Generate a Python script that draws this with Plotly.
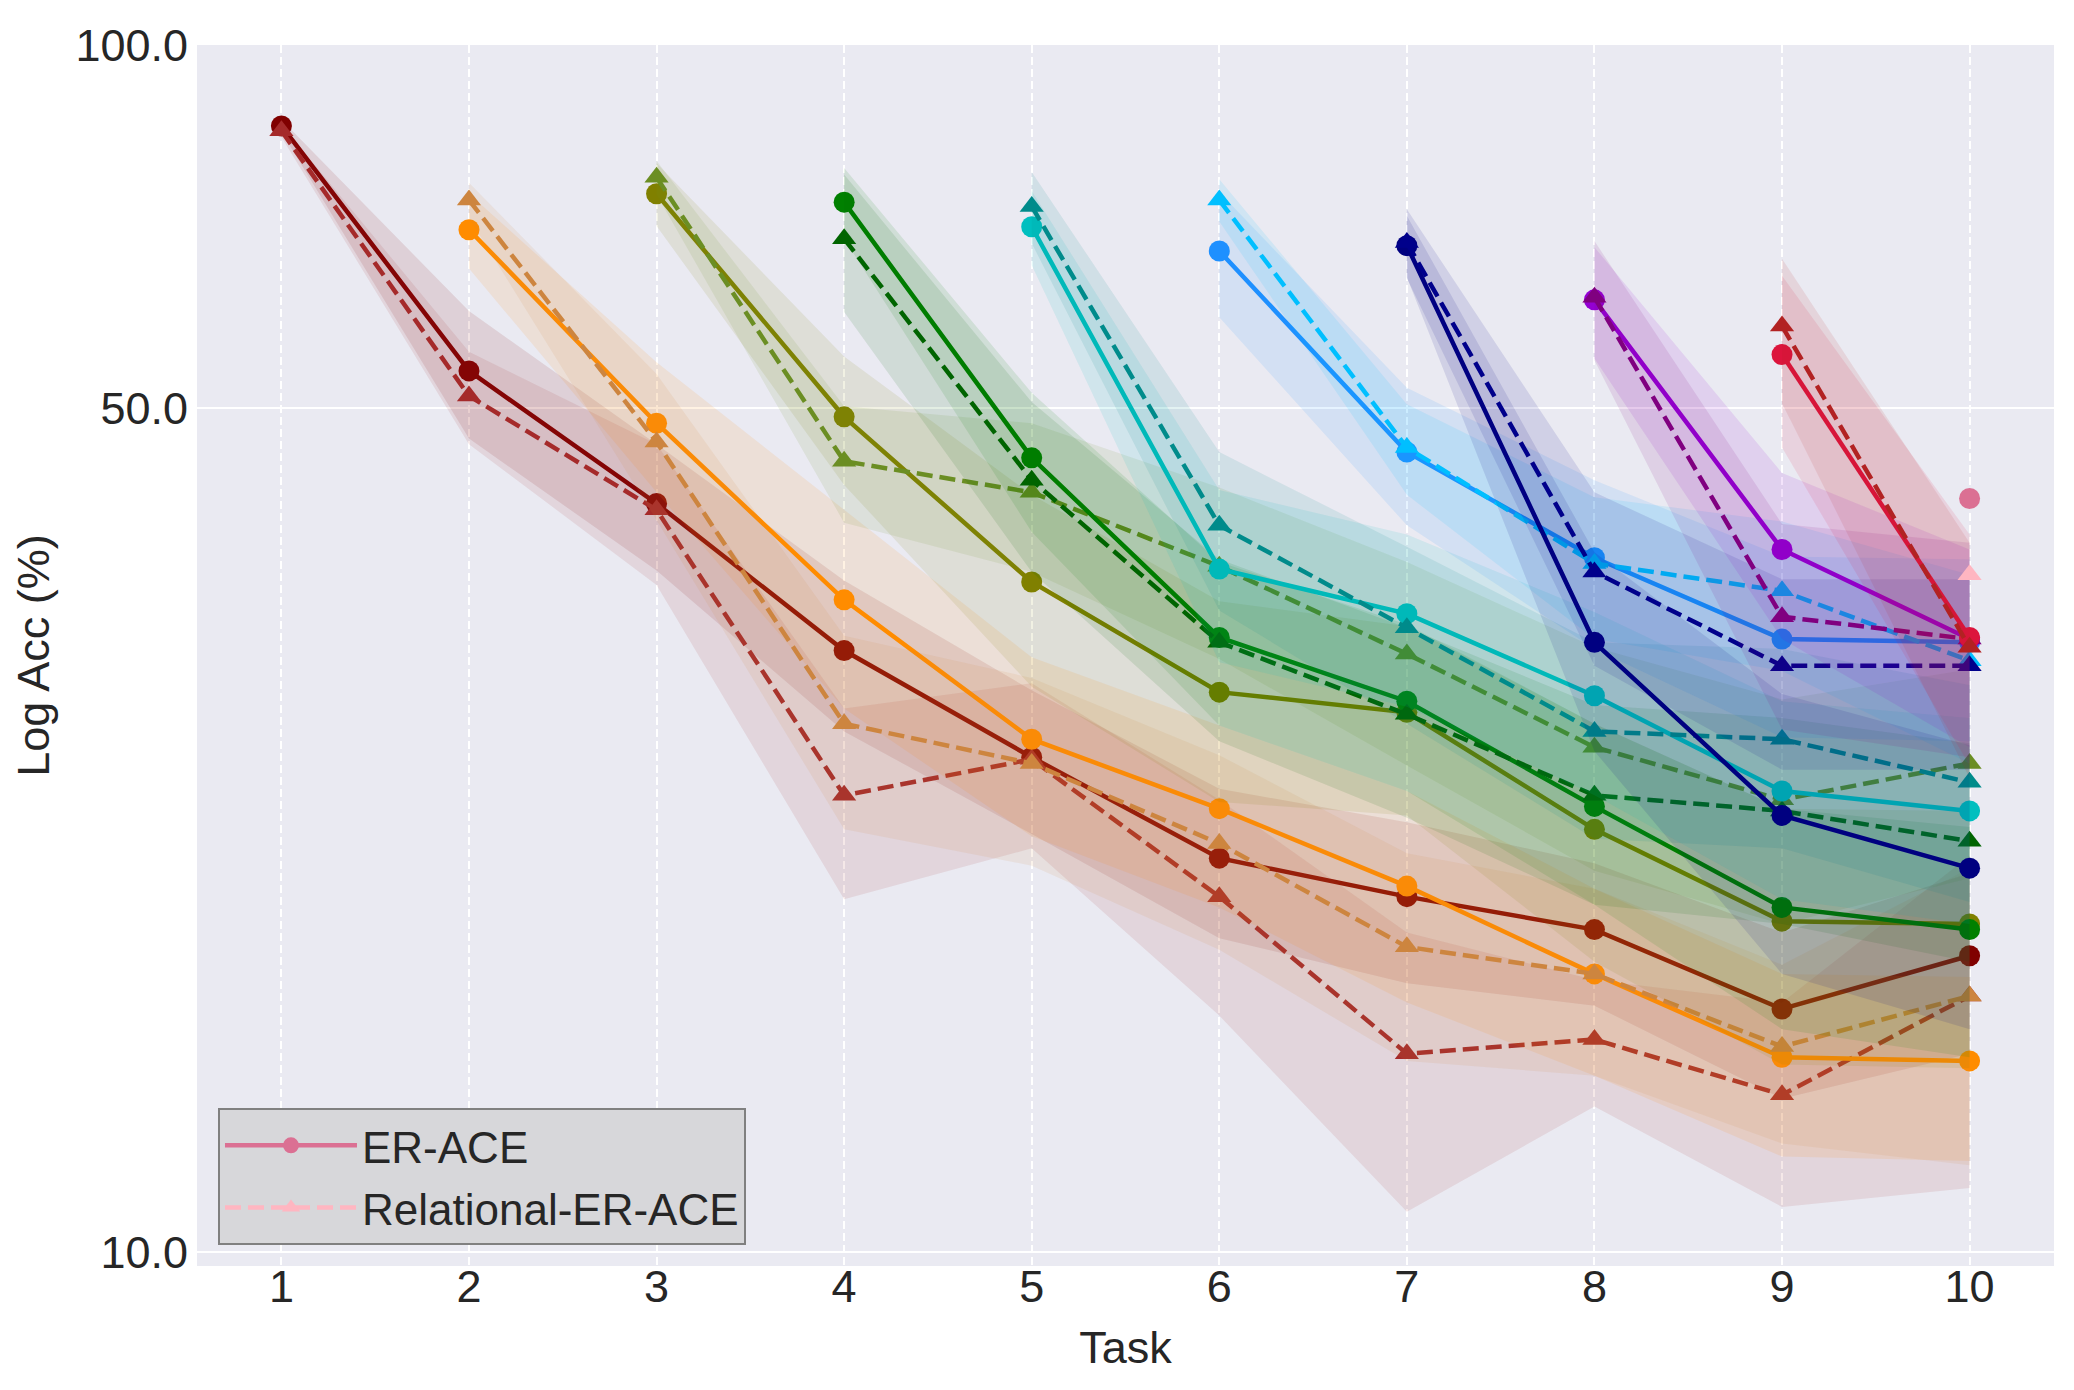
import numpy as np
import plotly.graph_objects as go

tasks = list(range(1, 11))

# mean accuracy per task, read left to right from the task where each model starts
er_acc = [
    [85.7, 53.7, 41.7, 31.5, 25.7, 21.2, 19.7, 18.5, 15.9, 17.6],
    [70.3, 48.6, 34.7, 26.6, 23.3, 20.1, 17.0, 14.5, 14.4],
    [75.3, 49.2, 35.9, 29.1, 28.0, 22.4, 18.8, 18.7],
    [74.1, 45.5, 32.3, 28.6, 23.4, 19.3, 18.5],
    [70.7, 36.8, 33.8, 28.9, 24.1, 23.2],
    [67.5, 46.0, 37.6, 32.2, 32.0],
    [68.2, 32.0, 23.0, 20.8],
    [61.5, 38.2, 32.2],
    [55.4, 32.3],
    [42.1],
]
rel_acc = [
    [84.9, 51.2, 41.2, 23.9, 25.6, 19.7, 14.6, 15.0, 13.5, 16.3],
    [74.4, 46.9, 27.4, 25.4, 21.8, 17.9, 17.0, 14.8, 16.3],
    [77.7, 45.2, 42.6, 37.0, 31.3, 26.2, 23.7, 25.4],
    [69.1, 43.6, 32.0, 27.9, 23.9, 23.2, 21.9],
    [73.5, 40.0, 32.9, 27.0, 26.6, 24.5],
    [74.4, 46.4, 37.2, 35.3, 30.9],
    [68.6, 36.6, 30.6, 30.6],
    [61.8, 33.6, 32.2],
    [58.5, 31.7],
    [36.4],
]

# std bands (estimated)
er_std = [
    [1.0, 6.5, 5.0, 4.5, 3.5, 3.0, 3.0, 2.5, 2.5, 3.0],
    [5.0, 6.0, 6.5, 4.5, 4.0, 4.0, 3.0, 2.5, 2.5],
    [4.5, 6.0, 6.5, 5.5, 5.0, 5.0, 4.5, 4.5],
    [5.0, 6.0, 5.0, 4.5, 4.0, 4.0, 4.0],
    [5.0, 6.0, 5.5, 5.0, 4.5, 4.5],
    [8.0, 6.0, 6.0, 5.5, 5.5],
    [4.0, 6.0, 6.0, 5.5],
    [6.5, 6.0, 6.0],
    [9.0, 7.0],
    [0.0],
]
rel_std = [
    [1.0, 4.5, 5.5, 4.3, 4.0, 4.0, 3.8, 1.8, 2.6, 5.0],
    [2.5, 6.5, 5.0, 4.5, 4.0, 3.5, 3.0, 2.5, 4.5],
    [2.5, 5.0, 6.0, 6.0, 6.0, 5.5, 5.0, 5.0],
    [9.0, 7.0, 5.5, 5.0, 4.5, 4.5, 4.5],
    [5.0, 6.0, 5.5, 5.0, 5.0, 5.0],
    [3.0, 4.0, 5.0, 5.0, 5.5],
    [4.5, 6.0, 5.5, 5.5],
    [7.0, 6.5, 6.5],
    [8.0, 7.0],
    [0.0],
]

er_colors = ["#800000", "#ff8c00", "#808000", "#008000", "#00bfbf",
             "#1e90ff", "#000080", "#9400d3", "#dc143c", "#db7093"]
rel_colors = ["#a52a2a", "#cd853f", "#6b8e23", "#006400", "#008b8b",
              "#00bfff", "#00008b", "#800080", "#b22222", "#ffb6c1"]


def rgba(hex_color, alpha):
    h = hex_color.lstrip("#")
    r, g, b = (int(h[i:i + 2], 16) for i in (0, 2, 4))
    return f"rgba({r},{g},{b},{alpha})"


fig = go.Figure()

for i in range(10):
    x = tasks[i:]
    runs = [
        (er_acc[i], er_std[i], er_colors[i], "solid", "circle", "ER-ACE"),
        (rel_acc[i], rel_std[i], rel_colors[i], "16px,7px", "triangle-up", "Relational-ER-ACE"),
    ]
    for acc, std, color, dash, symbol, name in runs:
        mean = np.array(acc)
        s = np.array(std)
        if s.max() > 0:
            fig.add_trace(go.Scatter(
                x=x + x[::-1],
                y=list(mean + s) + list((mean - s)[::-1]),
                fill="toself",
                fillcolor=rgba(color, 0.11),
                line=dict(width=0),
                mode="lines",
                hoverinfo="skip",
                showlegend=False,
            ))
        fig.add_trace(go.Scatter(
            x=x,
            y=acc,
            mode="lines+markers",
            line=dict(color=color, width=4.5, dash=dash),
            marker=dict(symbol=symbol, size=21, color=color),
            name=name,
            legendgroup=name,
            showlegend=(i == 9),
        ))

font = "Liberation Sans, Arial, sans-serif"

# the page body adds an 8px offset, margins compensate for it
fig.update_layout(
    width=2074,
    height=1390,
    margin=dict(l=189, r=28, t=29, b=132),
    plot_bgcolor="#EAEAF2",
    paper_bgcolor="white",
    font=dict(family=font, size=45, color="#262626"),
    legend=dict(
        x=0.0113, y=0.017, xanchor="left", yanchor="bottom",
        bgcolor="#d7d7da", bordercolor="#808080", borderwidth=2,
        font=dict(size=44, color="#262626"),
        tracegroupgap=2,
        itemwidth=132,
    ),
)

fig.update_xaxes(
    range=[0.55, 10.45],
    tickvals=tasks,
    showgrid=True, gridcolor="white", gridwidth=2, griddash="8px,4px",
    zeroline=False, showline=False, ticks="",
    tickfont=dict(size=45),
    ticklabelstandoff=-10,
    title=dict(text="Task", font=dict(size=45), standoff=20),
)

fig.update_yaxes(
    type="log",
    range=[np.log10(9.738), 2],
    tickvals=[10, 50, 100],
    ticktext=["10.0", "50.0", "100.0"],
    showgrid=True, gridcolor="white", gridwidth=2,
    zeroline=False, showline=False, ticks="",
    tickfont=dict(size=45),
    ticklabelstandoff=8,
    title=dict(text="Log Acc (%)", font=dict(size=45), standoff=12),
)

fig.write_html("out.html")
